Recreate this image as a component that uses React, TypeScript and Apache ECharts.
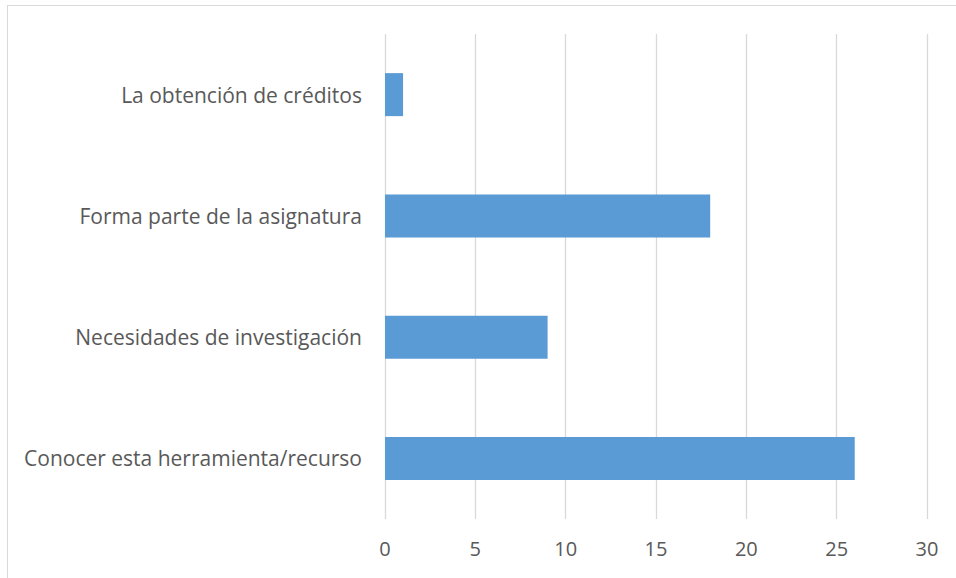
import React, { useEffect, useRef } from "react";
import * as echarts from "echarts";

const categories = [
  "Conocer esta herramienta/recurso",
  "Necesidades de investigación",
  "Forma parte de la asignatura",
  "La obtención de créditos",
];
const values = [26, 9, 18, 1];
const xMin = 0;
const xMax = 30;
const xInterval = 5;

export default function App() {
  const ref = useRef<HTMLDivElement>(null);
  useEffect(() => {
    if (!ref.current) return;
    const chart = echarts.init(ref.current, undefined, { renderer: "svg" });
    chart.setOption({
      animation: false,
      backgroundColor: "#ffffff",
      textStyle: { fontFamily: "Open Sans" },
      graphic: [
        { type: "line", shape: { x1: 7, y1: 5.5, x2: 956, y2: 5.5 }, style: { stroke: "#d9d9d9", lineWidth: 1 } },
        { type: "line", shape: { x1: 7.5, y1: 5, x2: 7.5, y2: 578 }, style: { stroke: "#d9d9d9", lineWidth: 1 } },
      ],
      grid: { left: 385, right: 29, top: 34, bottom: 59, containLabel: false },
      xAxis: {
        type: "value",
        min: xMin,
        max: xMax,
        interval: xInterval,
        axisLine: { show: false },
        axisTick: { show: false },
        axisLabel: { color: "#595959", fontSize: 20, margin: 19, fontFamily: "Open Sans" },
        splitLine: { show: true, lineStyle: { color: "#d9d9d9", width: 1.3 } },
      },
      yAxis: {
        type: "category",
        data: categories,
        axisLine: { show: false },
        axisTick: { show: false },
        axisLabel: { color: "#595959", fontSize: 21, margin: 23, fontFamily: "Open Sans" },
        splitLine: { show: false },
      },
      series: [
        {
          type: "bar",
          data: values,
          barWidth: 43,
          itemStyle: { color: "#5b9bd5" },
        },
      ],
    });
    return () => chart.dispose();
  }, []);
  return (
    <div
      ref={ref}
      style={{ position: "fixed", left: 0, top: 0, width: 956, height: 578 }}
    />
  );
}
